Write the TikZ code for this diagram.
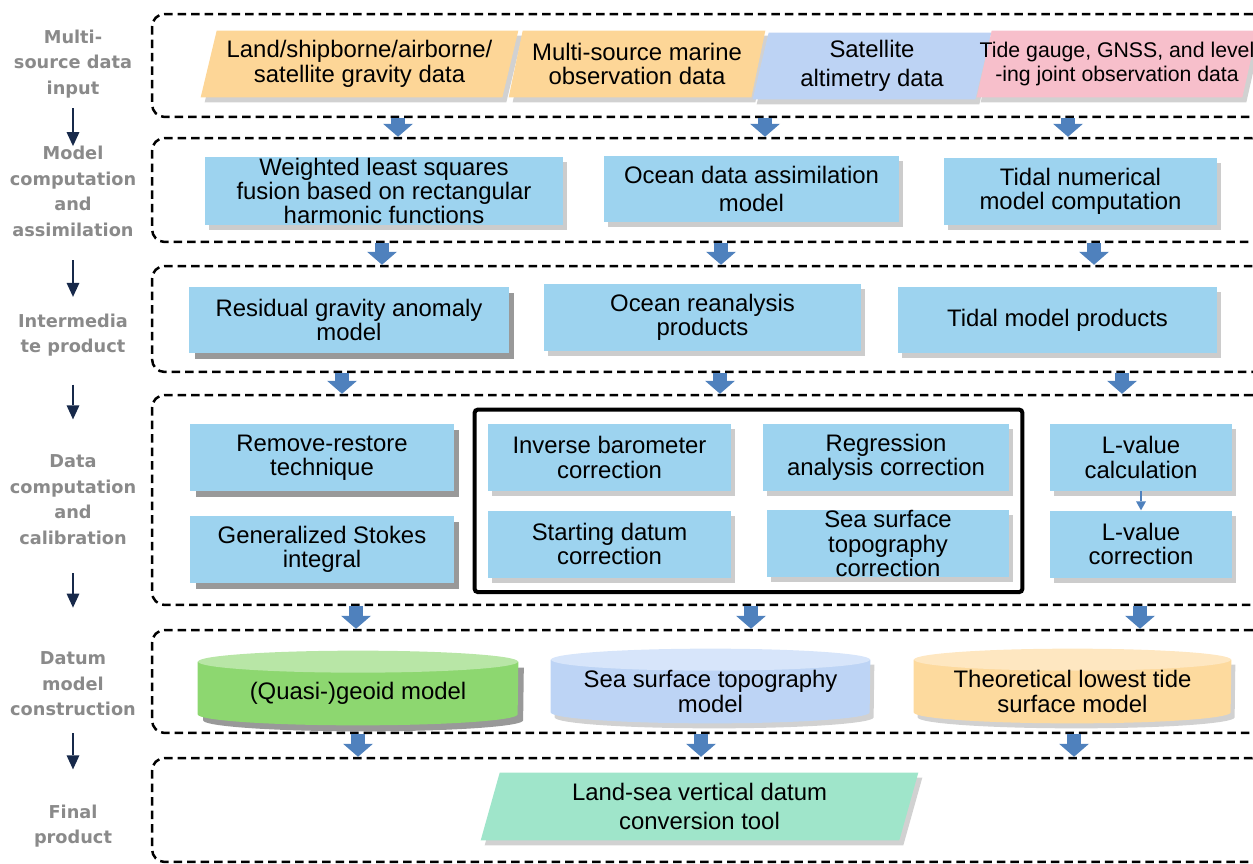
\documentclass[tikz,border=0pt]{standalone}
\usepackage{fontspec}
\setmainfont{Liberation Sans}
\newfontfamily\labfont{DejaVu Sans}
\usepackage{tikz}
\usetikzlibrary{positioning}
\usetikzlibrary{arrows.meta, shadows, fit, backgrounds}

\definecolor{boxblue}{HTML}{9DD3EF}
\definecolor{inorange}{HTML}{FDD697}
\definecolor{inblue}{HTML}{BDD3F4}
\definecolor{inpink}{HTML}{F7BFCB}
\definecolor{convmint}{HTML}{9FE5CA}
\definecolor{geoidbody}{HTML}{8DD770}
\definecolor{geoidtop}{HTML}{B8E6A6}
\definecolor{sstbody}{HTML}{BDD4F5}
\definecolor{ssttop}{HTML}{D7E5FA}
\definecolor{tidebody}{HTML}{FDDA9E}
\definecolor{tidetop}{HTML}{FEE7C1}
\definecolor{arrblue}{HTML}{4F81BD}
\definecolor{labgray}{HTML}{8A8A8A}
\definecolor{navy}{HTML}{17294A}

\newcommand{\boxfont}{\fontsize{13.6pt}{13.9pt}\selectfont}
\newcommand{\paraback}[3]{%
	\fill[black, opacity=0.18, transform canvas={xshift=0.08cm, yshift=-0.1cm}] (#1.south west) -- ([xshift=#3]#1.north west) -- (#1.north east) -- ([xshift=-#3]#1.south east) -- cycle;
	\fill[#2] (#1.south west) -- ([xshift=#3]#1.north west) -- (#1.north east) -- ([xshift=-#3]#1.south east) -- cycle;}
\newcommand{\cylback}[5]{%
	\fill[#5] (#1.north west) -- ([yshift=0.22cm]#1.south west) arc[start angle=180, end angle=360, x radius=#2, y radius=0.22cm] -- (#1.north east) -- cycle;
	\fill[#3] (#1.north west) -- ([yshift=0.22cm]#1.south west) arc[start angle=180, end angle=360, x radius=#2, y radius=0.22cm] -- (#1.north east) -- cycle;
	\fill[#4] (#1.north) ellipse[x radius=#2, y radius=0.22cm];}

\begin{document}
\begin{tikzpicture}[
			x=0.02cm, y=-0.02cm,
			panel/.style = {draw, line width=0.05cm, dash pattern=on 0.17cm off 0.1cm, rounded corners=0.25cm, minimum width=22.26cm, inner sep=0pt},
			softshade/.style = {drop shadow={shadow xshift=0.08cm, shadow yshift=-0.1cm, fill=black, opacity=0.2}},
			hardshade/.style = {drop shadow={shadow xshift=0.11cm, shadow yshift=-0.12cm, fill=black!40, opacity=1}},
			boxbase/.style = {fill=boxblue, inner sep=0pt, align=center, font=\boxfont},
			box/.style = {boxbase, softshade},
			hardbox/.style = {boxbase, hardshade},
			datatext/.style = {inner sep=0pt, align=center, font=\boxfont},
			corrframe/.style = {draw, line width=0.08cm, rounded corners=0.06cm, inner xsep=0.26cm, inner ysep=0.28cm},
			stagelabel/.style = {inner sep=0pt, align=center, text=labgray, font=\labfont\bfseries\fontsize{10.1pt}{14.5pt}\selectfont},
			flowarrow/.style = {arrblue, line width=0.28cm, -{Triangle[width=0.6cm, length=0.26cm, line width=0pt, fill=arrblue]}},
			smallarrow/.style = {arrblue, line width=0.04cm, -{Triangle[width=0.2cm, length=0.18cm, line width=0pt, fill=arrblue]}},
			stagearrow/.style = {navy, line width=0.04cm, -{Triangle[width=0.26cm, length=0.28cm, line width=0pt, fill=navy]}},
			hardcyl/.style = {fill=black!40, transform canvas={xshift=0.11cm, yshift=-0.12cm}},
			softcyl/.style = {fill=black, opacity=0.18, transform canvas={xshift=0.08cm, yshift=-0.1cm}}
			]
			\useasboundingbox (0,0) rectangle (1253,864);
			\node (p1) [panel, minimum height=2.06cm] at (708.5,65.5) {};
			\node (p2) [panel, minimum height=2.08cm] at (708.5,190) {};
			\node (p3) [panel, minimum height=2.12cm] at (708.5,319) {};
			\node (p4) [panel, minimum height=4.2cm] at (708.5,500) {};
			\node (p5) [panel, minimum height=2.06cm] at (708.5,681.5) {};
			\node (p6) [panel, minimum height=2.08cm] at (708.5,810) {};

			\node (lab1) [stagelabel] at (73,64) {Multi-\\source data\\input};
			\node (lab2) [stagelabel] at (73,191.5) {Model\\computation\\and\\assimilation};
			\node (lab3) [stagelabel] at (73,335) {Intermedia\\te product};
			\node (lab4) [stagelabel] at (73,499.5) {Data\\computation\\and\\calibration};
			\node (lab5) [stagelabel] at (73,684) {Datum\\model\\construction};
			\node (lab6) [stagelabel] at (73,826) {Final\\product};

			\node (grav) [datatext, minimum width=6.34cm, minimum height=1.32cm] at (359.5,64) {Land/shipborne/airborne/\\satellite gravity data};
			\node (marine) [datatext, minimum width=5.12cm, minimum height=1.32cm] at (637,64) {Multi-source marine\\observation data};
			\node (alti) [datatext, minimum width=4.76cm, minimum height=1.32cm] at (872,66) {Satellite\\[0.1cm]altimetry data};
			\node (tide) [datatext, minimum width=5.6cm, minimum height=1.32cm, font=\fontsize{12.1pt}{13.7pt}\selectfont] at (1117,64) {Tide gauge, GNSS, and level\\-ing joint observation data};

			\node (wls) [box, minimum width=7.16cm, minimum height=1.36cm] at (384,191) {Weighted least squares\\fusion based on rectangular\\harmonic functions};
			\node (oda) [box, minimum width=5.9cm, minimum height=1.32cm] at (751.5,189) {Ocean data assimilation\\[0.08cm]model};
			\node (tnm) [box, minimum width=5.46cm, minimum height=1.34cm] at (1080.5,191.5) {Tidal numerical\\model computation};

			\node (rga) [hardbox, minimum width=6.4cm, minimum height=1.32cm] at (349,320) {Residual gravity anomaly\\model};
			\node (orp) [box, minimum width=6.34cm, minimum height=1.34cm] at (702.5,317.5) {Ocean reanalysis\\products};
			\node (tmp) [box, minimum width=6.38cm, minimum height=1.32cm] at (1057.5,320) {Tidal model products};

			\node (rrt) [hardbox, minimum width=5.28cm, minimum height=1.34cm] at (322,457.5) {Remove-restore\\technique};
			\node (gsi) [hardbox, minimum width=5.28cm, minimum height=1.34cm, below = 0.48cm of rrt] {Generalized Stokes\\integral};
			\node (ibc) [box, minimum width=4.86cm, minimum height=1.34cm] at (609.5,457.5) {Inverse barometer\\correction};
			\node (rac) [box, minimum width=4.92cm, minimum height=1.34cm] at (886,457.5) {Regression\\analysis correction};
			\node (sdc) [box, minimum width=4.86cm, minimum height=1.34cm, below = 0.38cm of ibc] {Starting datum\\correction};
			\node (sstc) [box, minimum width=4.84cm, minimum height=1.34cm] at (888,543.5) {Sea surface\\topography\\correction};
			\node (lvcal) [box, minimum width=3.64cm, minimum height=1.34cm] at (1141,457.5) {L-value\\calculation};
			\node (lvcor) [box, minimum width=3.64cm, minimum height=1.34cm, below = 0.38cm of lvcal] {L-value\\correction};
			\node (corr) [corrframe, fit=(ibc)(rac)(sdc)(sstc)] {};

			\node (geoid) [datatext, minimum width=6.4cm, minimum height=1.26cm] at (358,693.5) {(Quasi-)geoid model};
			\node (sstm) [datatext, minimum width=6.38cm, minimum height=1.26cm] at (710.5,691.5) {Sea surface topography\\model};
			\node (tlt) [datatext, minimum width=6.34cm, minimum height=1.26cm] at (1072.5,691.5) {Theoretical lowest tide\\surface model};

			\node (conv) [datatext, minimum width=8.74cm, minimum height=1.34cm] at (699.5,806.5) {Land-sea vertical datum\\[0.1cm]conversion tool};

			\begin{scope}[on background layer]
				\paraback{grav}{inorange}{0.32cm}
				\paraback{marine}{inorange}{0.28cm}
				\paraback{alti}{inblue}{0.32cm}
				\paraback{tide}{inpink}{0.3cm}
				\paraback{conv}{convmint}{0.38cm}
				\cylback{geoid}{3.2cm}{geoidbody}{geoidtop}{hardcyl}
				\cylback{sstm}{3.19cm}{sstbody}{ssttop}{softcyl}
				\cylback{tlt}{3.17cm}{tidebody}{tidetop}{softcyl}
			\end{scope}

			\path [flowarrow]
			(p1.south -| 398,0) edge (p2.north -| 398,0)
			(p1.south -| 765,0) edge (p2.north -| 765,0)
			(p1.south -| 1068,0) edge (p2.north -| 1068,0)
			(p2.south -| 382,0) edge (p3.north -| 382,0)
			(p2.south -| 721,0) edge (p3.north -| 721,0)
			(p2.south -| 1094,0) edge (p3.north -| 1094,0)
			(p3.south -| 342,0) edge (p4.north -| 342,0)
			(p3.south -| 720,0) edge (p4.north -| 720,0)
			(p3.south -| 1122,0) edge (p4.north -| 1122,0)
			(p4.south -| 356,0) edge (p5.north -| 356,0)
			(p4.south -| 751,0) edge (p5.north -| 751,0)
			(p4.south -| 1140,0) edge (p5.north -| 1140,0)
			(p5.south -| 358,0) edge (p6.north -| 358,0)
			(p5.south -| 701,0) edge (p6.north -| 701,0)
			(p5.south -| 1074,0) edge (p6.north -| 1074,0);
			\path [smallarrow] (lvcal) edge (lvcor);

			\path [stagearrow]
			(lab1) edge [shorten <=0.2cm] (lab2)
			(lab2) edge [shorten <=0.47cm, shorten >=0.33cm] (lab3)
			(lab3) edge [shorten <=0.56cm, shorten >=0.7cm] (lab4)
			(lab4) edge [shorten <=0.57cm, shorten >=0.88cm] (lab5)
			(lab5) edge [shorten <=0.34cm, shorten >=0.7cm] (lab6);
		\end{tikzpicture}
\end{document}
